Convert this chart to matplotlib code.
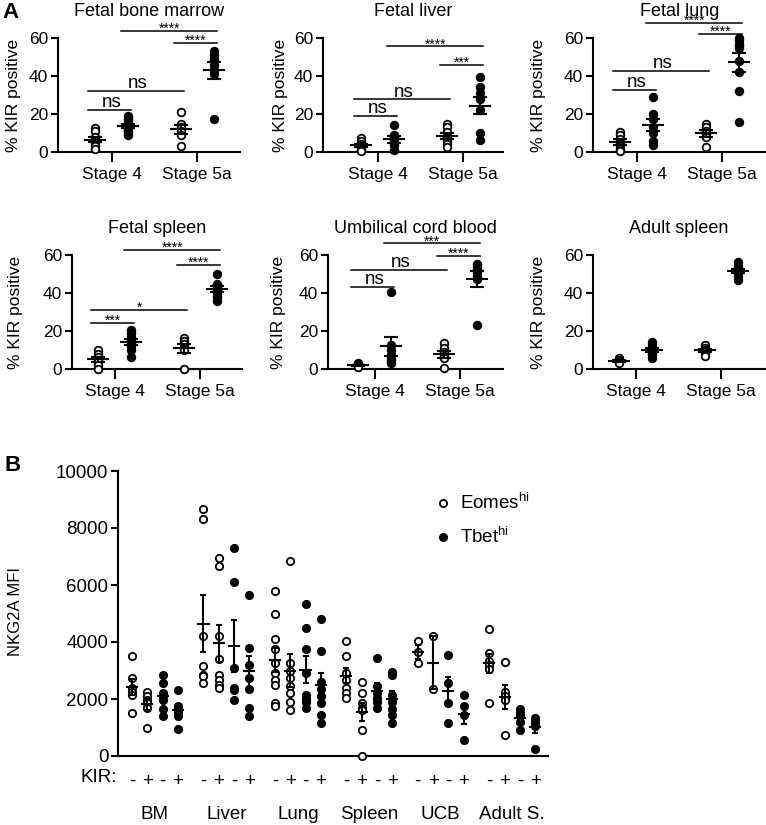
import numpy as np
import matplotlib
matplotlib.use("Agg")
import matplotlib.pyplot as plt
from matplotlib.lines import Line2D
import matplotlib.transforms as mtransforms

plt.rcParams['font.family'] = ['Liberation Sans', 'DejaVu Sans']
plt.rcParams['mathtext.fontset'] = 'custom'
plt.rcParams['mathtext.rm'] = 'Liberation Sans'
plt.rcParams['mathtext.it'] = 'Liberation Sans:italic'

W, H = 766, 825

# ---------------- panel A: % KIR positive ----------------
# columns: Stage 4 Eomes-hi (open), Stage 4 Tbet-hi (filled), Stage 5a open, Stage 5a filled
tissues = ['Fetal bone marrow', 'Fetal liver', 'Fetal lung',
           'Fetal spleen', 'Umbilical cord blood', 'Adult spleen']
stages = ['Stage 4', 'Stage 5a']

fbm = [[12.5, 11, 8, 6, 4, 3, 1.5],
       [19, 17.5, 16.5, 15, 14, 13, 12, 11, 10, 9],
       [21, 15, 13, 11, 9, 3],
       [53, 51, 49, 46, 43, 41, 17.5]]
fliver = [[7.5, 6, 4, 3, 2, 1, 0.5],
          [14, 9, 7.5, 6, 3.5, 1],
          [15, 13, 10.5, 8, 6, 4, 2.5],
          [39.5, 34, 31, 28, 22, 10, 6.5]]
flung = [[10.5, 9, 7, 5, 3, 1.5, 0.5],
         [29, 20, 17.5, 13, 10, 6, 3.5],
         [15, 13, 11, 10, 8, 2.5],
         [60, 59, 57, 56, 55, 48, 42, 32, 16]]
fspleen = [[10, 8, 6.5, 5, 4, 2, 0],
           [20.5, 19, 17, 15.5, 14, 13, 12, 10, 6.5],
           [16.5, 15, 13, 11, 10, 0],
           [50, 45, 44, 43, 42, 41, 40, 38, 36]]
ucb = [[3, 2.5, 2, 1.5, 1],
       [40.5, 12.5, 10, 7.5, 6, 4.5, 3],
       [13.5, 11, 9, 7, 6, 0.5],
       [55.5, 54, 52.5, 51, 49, 47.5, 23]]
aspleen = [[6, 4.5, 4, 3.5, 3],
           [14, 12.5, 11, 10, 9, 8, 6],
           [12.5, 11, 10, 9.5, 8.5, 7],
           [56.5, 54, 52.5, 51.5, 50.5, 49, 47]]
panel_a = [fbm, fliver, flung, fspleen, ucb, aspleen]

# significance: (from column, to column, height, label)
sig = [
    [(0, 1, 22.3, 'ns'), (0, 2, 32.1, 'ns'), (1, 3, 63.7, '****'), (2, 3, 57.4, '****')],
    [(0, 1, 18.9, 'ns'), (0, 2, 27.7, 'ns'), (1, 3, 55.6, '****'), (2, 3, 46.0, '***')],
    [(0, 1, 32.8, 'ns'), (0, 2, 42.5, 'ns'), (1, 3, 67.9, '****'), (2, 3, 62.3, '****')],
    [(0, 1, 24.2, '***'), (0, 2, 31.0, '*'), (1, 3, 62.6, '****'), (2, 3, 54.7, '****')],
    [(0, 1, 43.3, 'ns'), (0, 2, 52.1, 'ns'), (1, 3, 66.1, '***'), (2, 3, 59.6, '****')],
    [],
]

# ---------------- panel B: NKG2A MFI ----------------
groups = ['BM', 'Liver', 'Lung', 'Spleen', 'UCB', 'Adult S.']
kir = ['-', '+', '-', '+']
# per group: Eomes KIR-, Eomes KIR+, Tbet KIR-, Tbet KIR+
bm_b = [[3500, 2750, 2400, 2250, 2150, 1500],
        [2250, 2100, 1950, 1850, 1700, 1000],
        [2850, 2550, 2200, 2100, 1950, 1650, 1400],
        [2300, 1750, 1650, 1550, 1400, 950]]
liver_b = [[8650, 8300, 4200, 3150, 2850, 2800, 2550],
           [6950, 6650, 4200, 3400, 2850, 2650, 2500, 2400],
           [7300, 6100, 3100, 2400, 2300, 1950],
           [5650, 3800, 3200, 2750, 2350, 1700, 1400]]
lung_b = [[5800, 5000, 4100, 3750, 3250, 2900, 2650, 2500, 1850, 1750],
          [6850, 3250, 3000, 2750, 2450, 2200, 1900, 1600],
          [5350, 4500, 3750, 2900, 2150, 2000, 1900, 1700],
          [4800, 3700, 2600, 2350, 2100, 1850, 1450, 1150]]
spleen_b = [[4050, 3500, 2900, 2650, 2400, 2200, 2050],
            [2600, 2200, 1850, 1700, 1600, 900, 0],
            [3450, 2450, 2200, 2050, 1900, 1700],
            [2950, 2850, 2150, 1900, 1650, 1450, 1150]]
ucb_b = [[4050, 3650, 3250],
         [4200, 2350],
         [3550, 2550, 1850, 1150],
         [2150, 1750, 1450, 550]]
adult_b = [[4450, 3600, 3350, 3200, 3050, 1850],
           [3300, 2250, 2100, 1950, 750],
           [1650, 1500, 1400, 1200, 900],
           [1350, 1250, 1150, 1050, 250]]
panel_b = [bm_b, liver_b, lung_b, spleen_b, ucb_b, adult_b]


def px_axes(fig, left, right, top, bottom):
    return fig.add_axes([left / W, 1 - bottom / H, (right - left) / W, (bottom - top) / H])


def dots(ax, x, vals, filled, hw, cap, s=30):
    vals = np.asarray(vals, dtype=float)
    ax.scatter(np.full(len(vals), x), vals, s=s, clip_on=False, zorder=3,
               facecolor='black' if filled else 'white', edgecolor='black', linewidths=1.3)
    m = vals.mean()
    se = vals.std(ddof=1) / np.sqrt(len(vals))
    ax.plot([x - hw, x + hw], [m, m], color='black', lw=1.5, zorder=4, clip_on=False)
    ax.errorbar(x, m, yerr=se, fmt='none', ecolor='black', elinewidth=1.5,
                capsize=cap, capthick=1.5, zorder=4, clip_on=False)


fig = plt.figure(figsize=(W / 100, H / 100), dpi=100)

# pixel boxes: left, right, column-0 x, top (y=60)
boxes = [(58, 240, 95, 38), (323, 503, 361, 38), (593, 766, 620, 38),
         (72, 242, 98, 255), (328, 503, 358, 255), (593, 765, 619, 255)]
ylab_x = [14, 280, 538, 16, 279, 539]
pos = np.array([0, 1, 2.6, 3.6])
unit = 33.0

for i, (name, cols) in enumerate(zip(tissues, panel_a)):
    l, r, c0, t = boxes[i]
    ax = px_axes(fig, l, r, t, t + 114)
    ax.set_xlim((l - c0) / unit, (r - c0) / unit)
    ax.set_ylim(0, 60)
    for k, vals in enumerate(cols):
        dots(ax, pos[k], vals, k % 2 == 1, 0.3, 5)
    for a, b, yv, lab in sig[i]:
        ax.plot([pos[a] - 0.2, pos[b] + 0.1], [yv, yv], color='black', lw=1.1, clip_on=False)
        if lab == 'ns':
            ax.annotate(lab, ((pos[a] + pos[b]) / 2, yv), xytext=(0, 2), textcoords='offset points',
                        ha='center', va='baseline', fontsize=13.5, annotation_clip=False)
        else:
            ax.annotate(lab, ((pos[a] + pos[b]) / 2 - 0.05, yv), xytext=(0, -1.5),
                        textcoords='offset points', ha='center', va='baseline', fontsize=10,
                        annotation_clip=False, zorder=5)
    ax.spines[['top', 'right']].set_visible(False)
    ax.spines[['left', 'bottom']].set_linewidth(1.5)
    ax.set_yticks([0, 20, 40, 60])
    ax.set_xticks([0.5, 3.1])
    ax.set_xticklabels(stages)
    ax.tick_params(axis='y', length=5, width=1.5, labelsize=12.5, pad=2)
    ax.tick_params(axis='x', length=7, width=1.5, labelsize=12.5, pad=3.5)
    ax.set_title(name, fontsize=13, pad=16)
    fig.text(ylab_x[i] / W, 1 - (t + 57) / H, '% KIR positive', rotation=90,
             ha='center', va='center', fontsize=12.5)

fig.text(2 / W, 1 - 2 / H, 'A', fontsize=16, fontweight='bold', ha='left', va='top')
fig.text(4 / W, 1 - 455 / H, 'B', fontsize=16, fontweight='bold', ha='left', va='top')

# panel B
axb = px_axes(fig, 118, 548, 471, 756)
bunit = 15.3
gstep = 4.67
axb.set_xlim((118 - 132) / bunit, (548 - 132) / bunit)
axb.set_ylim(0, 10000)
xt = []
for g, cols in enumerate(panel_b):
    for k, vals in enumerate(cols):
        x = g * gstep + k
        xt.append(x)
        dots(axb, x, vals, k >= 2, 0.33, 2.5, s=28)
axb.set_xticks(xt)
axb.set_xticklabels(kir * len(groups))
axb.tick_params(axis='x', length=0, labelsize=13.5, pad=12)
axb.tick_params(axis='y', length=5, width=1.5, labelsize=13.5, pad=2)
axb.set_yticks(np.arange(0, 10001, 2000))
axb.spines[['top', 'right']].set_visible(False)
axb.spines[['left', 'bottom']].set_linewidth(1.5)
trans = mtransforms.blended_transform_factory(axb.transData, axb.transAxes)
for g, name in enumerate(groups):
    axb.text(g * gstep + 1.5, -0.205, name, transform=trans, ha='center', va='center', fontsize=13.5)
fig.text(117 / W, 1 - 778 / H, 'KIR:', ha='right', va='center', fontsize=13.5)
fig.text(16 / W, 1 - 612 / H, 'NKG2A MFI', rotation=90, ha='center', va='center', fontsize=12)

handles = [Line2D([], [], ls='none', marker='o', ms=5.2, mfc='white', mec='black', mew=1.3),
           Line2D([], [], ls='none', marker='o', ms=5.2, mfc='black', mec='black', mew=1.3)]
axb.legend(handles, ['Eomes$^{\\mathrm{hi}}$', 'Tbet$^{\\mathrm{hi}}$'], loc='upper left',
           bbox_to_anchor=(437 / W, 1 - 493 / H), bbox_transform=fig.transFigure,
           frameon=False, fontsize=13.5, handlelength=0.6, handletextpad=0.6,
           labelspacing=0.75, borderpad=0, borderaxespad=0)

fig.savefig('out.png', dpi=100)
